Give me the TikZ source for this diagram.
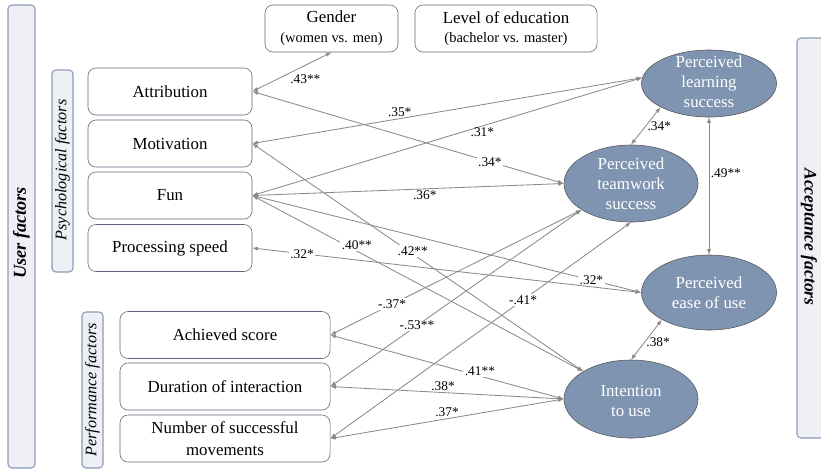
\documentclass[tikz,border=0pt]{standalone}
\usepackage{fontspec}
\setmainfont{Liberation Serif}
\usepackage{tikz}
\usetikzlibrary{shapes.geometric,arrows.meta}

\definecolor{barfill}{HTML}{EEF0F5}
\definecolor{barline}{HTML}{8C9BB8}
\definecolor{boxline}{HTML}{5B6479}
\definecolor{ovalfill}{HTML}{7F94B0}
\definecolor{ovalline}{HTML}{555555}
\definecolor{linkgray}{HTML}{8A8A8A}

\tikzset{
    factor/.style={draw=boxline, fill=white, rounded corners=0.2cm, minimum height=1.175cm,
        align=center, inner sep=1pt, font=\fontsize{12}{15.5}\selectfont},
    psybox/.style={factor, minimum width=4.1cm},
    perfbox/.style={factor, minimum width=5.25cm},
    ovaltext/.style={text=white, align=center, inner sep=0pt, font=\fontsize{12}{14.2}\selectfont},
    accept/.style={ellipse, draw=ovalline, fill=ovalfill, inner sep=0pt},
    group/.style={draw=barline, fill=barfill, rounded corners=0.1cm, line width=0.8pt},
    link/.style={draw=linkgray, line width=0.6pt, <->},
    coef/.style={inner sep=1pt, font=\fontsize{9.5}{11}\selectfont},
    coefw/.style={coef, fill=white},
}

\begin{document}
\begin{tikzpicture}[x=0.025cm, y=-0.025cm, >={Latex[length=4pt,width=3pt]}]
    \useasboundingbox (0,0) rectangle (821,470);

    % group bars
    \draw[group] (8,5) rectangle (35,468);
    \draw[group] (52,70) rectangle (73,272);
    \draw[group] (82,312) rectangle (103,468);
    \path[group] (821,38) -- (797,38) -- (797,438) -- (821,438);
    \node[rotate=90, font=\bfseries\itshape\fontsize{13}{15}\selectfont] (userlbl) at (21.5,233) {User factors};
    \node[rotate=90, font=\itshape\fontsize{11.5}{13}\selectfont] (psylbl) at (62.5,170) {Psychological factors};
    \node[rotate=90, font=\itshape\fontsize{11.5}{13}\selectfont] (perflbl) at (92.5,390) {Performance factors};
    \node[rotate=-90, font=\bfseries\itshape\fontsize{12.5}{15}\selectfont] (acclbl) at (809,237) {Acceptance factors};

    % user factors
    \node[psybox] (attr) at (170,91.5) {Attribution};
    \node[psybox] (motiv) at (170,143.5) {Motivation};
    \node[psybox] (fun) at (170,195.5) {Fun};
    \node[psybox] (speed) at (170,248) {Processing speed};
    \node[perfbox] (score) at (225,335) {Achieved score};
    \node[perfbox] (dur) at (225,386.5) {Duration of interaction};
    \node[perfbox] (num) at (225,438.5) {Number of successful\\movements};
    \node[factor, minimum width=3.325cm, font=\fontsize{12}{14}\selectfont] (gender) at (331.5,28.5)
        {Gender\\{\fontsize{10.3}{12}\selectfont(women vs. men)}};
    \node[factor, minimum width=4.55cm, font=\fontsize{12}{14}\selectfont] (edu) at (506,28.5)
        {Level of education\\{\fontsize{10.3}{12}\selectfont(bachelor vs. master)}};

    % acceptance factors
    \node[accept, minimum width=3.375cm, minimum height=1.675cm,
        label={[ovaltext, yshift=0.04cm]center:Perceived\\learning\\success}] (learn) at (709,83.5) {};
    \node[accept, minimum width=3.35cm, minimum height=1.925cm,
        label={[ovaltext]center:Perceived\\teamwork\\success}] (team) at (631,183.5) {};
    \node[accept, minimum width=3.375cm, minimum height=1.875cm,
        label={[ovaltext]center:Perceived\\ease of use}] (ease) at (709,292.5) {};
    \node[accept, minimum width=3.35cm, minimum height=1.95cm,
        label={[ovaltext, yshift=-0.04cm]center:Intention\\to use}] (intent) at (631,399) {};

    % paths
    \draw[link] (attr.east) -- node[coef, pos=0.67, below=0.2cm] (c1) {.43**} (gender.south);
    \draw[link] (attr.east) -- node[coefw, pos=0.763] (c2) {.34*} (team.west);
    \draw[link] (motiv.east) -- node[coef, pos=0.378, above] (c3) {.35*} (learn.175);
    \draw[link] (fun.east) -- node[coef, pos=0.59, below] (c4) {.31*} (learn.175);
    \draw[link] (fun.east) -- node[coef, pos=0.554, below] (c5) {.36*} (team.west);
    \draw[link] (fun.east) -- node[coefw, pos=0.316, yshift=0.15cm] (c6) {.40**} (intent.150);
    \draw[link] (motiv.east) -- node[coefw, pos=0.485, yshift=0.08cm] (c7) {.42**} (intent.150);
    \draw[link] (fun.east) -- node[coefw, pos=0.872] (c8) {.32*} (ease.west);
    \draw[link] (speed.east) -- node[coefw, pos=0.128] (c9) {.32*} (ease.west);
    \draw[link] (score.east) -- node[coefw, pos=0.246] (c10) {-.37*} (team.208);
    \draw[link] (dur.east) -- node[coefw, pos=0.345] (c11) {-.53**} (team.208);
    \draw[link] (num.east) -- node[coefw, pos=0.641] (c12) {-.41*} (team.south);
    \draw[link] (score.east) -- node[coefw, pos=0.641, yshift=0.12cm] (c13) {.41**} (intent.west);
    \draw[link] (dur.east) -- node[coef, pos=0.483, above] (c14) {.38*} (intent.west);
    \draw[link] (num.east) -- node[coef, pos=0.5, above] (c15) {.37*} (intent.west);
    \draw[link] (team.north) -- node[coef, pos=0.5, right] (c16) {.34*} (learn.206);
    \draw[link] (learn.south) -- node[coef, pos=0.41, right] (c17) {.49**} (ease.north);
    \draw[link] (ease.210) -- node[coef, pos=0.56, right] (c18) {.38*} (intent.north);
\end{tikzpicture}
\end{document}
